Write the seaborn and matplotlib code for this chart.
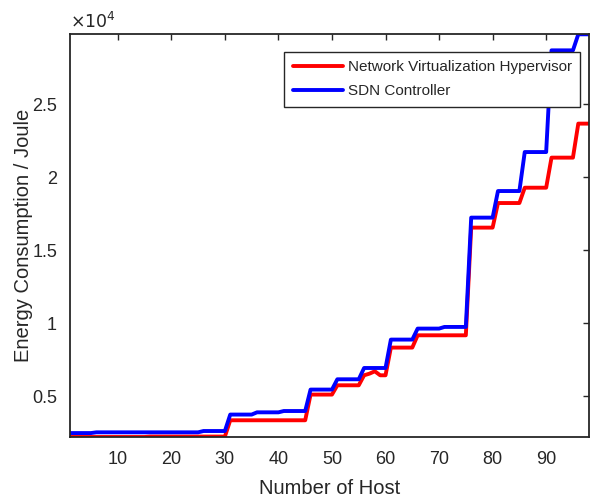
import numpy as np
import pandas as pd
import matplotlib
matplotlib.use('Agg')
import matplotlib.pyplot as plt
import seaborn as sns
from matplotlib.ticker import FuncFormatter

# Data (energy in Joule, one value per host)
hosts = np.arange(1, 99)

hypervisor = ([2210] * 15 + [2240] * 15 + [3356] * 15 + [5116] * 5 + [5753] * 5
              + [6438, 6550, 6712, 6438, 6438] + [8336] * 5 + [9178] * 10
              + [16555] * 5 + [18240] * 5 + [19290] * 5 + [21350] * 5 + [23680] * 3)

sdn_controller = ([2480] * 5 + [2530] * 20 + [2620] * 5 + [3747] * 5 + [3900] * 5
                  + [3990] * 5 + [5459] * 5 + [6164] * 5 + [6938] * 5 + [8884] * 5
                  + [9637] * 5 + [9750] * 5 + [17240] * 5 + [19062] * 5 + [21733] * 5
                  + [28700] * 5 + [29800] * 3)

series_names = ['Network Virtualization Hypervisor', 'SDN Controller']
series_colors = ['#FF0000', '#0000FF']

df = pd.DataFrame({
    'host': np.concatenate([hosts, hosts]),
    'energy': np.concatenate([hypervisor, sdn_controller]),
    'series': [series_names[0]] * len(hosts) + [series_names[1]] * len(hosts),
})

sns.set_style('white')
plt.rcParams['font.family'] = ['Liberation Sans', 'DejaVu Sans']

fig = plt.figure(figsize=(5.9, 4.97), dpi=100)
ax = fig.add_axes([69.6 / 590, 60 / 497, (589 - 69.6) / 590, (437 - 34.3) / 497])

sns.lineplot(data=df, x='host', y='energy', hue='series', palette=series_colors,
             linewidth=2.8, ax=ax, legend=True)

ax.set_xlim(1, 98)
ax.set_ylim(min(hypervisor), max(sdn_controller))
ax.set_xticks(range(10, 100, 10))
ax.set_yticks([5000, 10000, 15000, 20000, 25000])
ax.yaxis.set_major_formatter(FuncFormatter(lambda v, p: '%g' % (v / 1e4)))

dark = '#262626'
for s in ax.spines.values():
    s.set_visible(True)
    s.set_color(dark)
    s.set_linewidth(1.3)
ax.tick_params(direction='in', length=4, width=1, top=True, right=True,
               colors=dark, labelsize=13)
ax.tick_params(axis='x', pad=10)
ax.tick_params(axis='y', pad=9)

ax.set_xlabel('Number of Host', fontsize=14.5, color=dark, labelpad=8)
ax.set_ylabel('Energy Consumption / Joule', fontsize=14.5, color=dark, labelpad=-1)
ax.text(0, 1.008, r'$\times10^{4}$', transform=ax.transAxes, ha='left', va='bottom',
        fontsize=12.5, color=dark)

leg = ax.legend(loc='upper right', bbox_to_anchor=(0.983, 0.956), borderaxespad=0,
                fontsize=11, handlelength=3.3, handletextpad=0.3, labelspacing=0.65,
                borderpad=0.55, fancybox=False, framealpha=1, edgecolor=dark, title=None)
leg.get_frame().set_linewidth(1.0)

fig.savefig('out.png', dpi=100)
